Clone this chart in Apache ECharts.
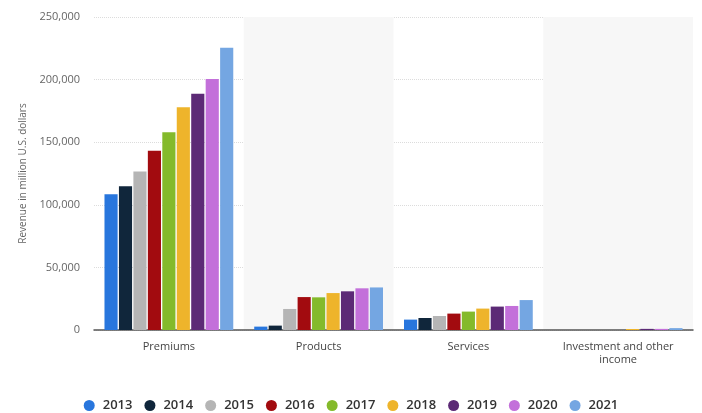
<!DOCTYPE html>
<html>
<head>
<meta charset="utf-8">
<script src="https://cdn.jsdelivr.net/npm/echarts@6/dist/echarts.min.js"></script>
<style>
  html, body { margin: 0; padding: 0; background: #fff; }
  #main-chart { width: 702px; height: 413px; }
</style>
</head>
<body>
<div id="main-chart"></div>
<script>
const categories = ['Premiums', 'Products', 'Services', 'Investment and other\nincome']
const years = ['2013', '2014', '2015', '2016', '2017', '2018', '2019', '2020', '2021']
const yTicks = [0, 50000, 100000, 150000, 200000, 250000]
// revenue per year, in the order of categories
const rev2013 = [108500, 2700, 8300, 0]
const rev2014 = [114900, 3500, 9600, 0]
const rev2015 = [126600, 16800, 11200, 0]
const rev2016 = [143100, 26300, 13100, 0]
const rev2017 = [158000, 26100, 14700, 0]
const rev2018 = [177900, 29500, 17100, 800]
const rev2019 = [188600, 30900, 18700, 900]
const rev2020 = [200500, 33300, 19200, 900]
const rev2021 = [225500, 34000, 23900, 1500]
const colors = ['#2876dd', '#10263b', '#b5b5b5', '#a20b0f', '#84ba2b', '#eeb42b', '#5c2a76', '#c370da', '#74a6e2']

const allRev = [rev2013, rev2014, rev2015, rev2016, rev2017, rev2018, rev2019, rev2020, rev2021]

const myChart = echarts.init(document.getElementById('main-chart'))

let option = {
    animation: false,
    color: colors,
    textStyle: { fontFamily: 'Open Sans, DejaVu Sans, sans-serif' },
    grid: { left: 94, right: 9, top: 17, bottom: 83 },
    legend: {
        top: 394,
        left: 'center',
        icon: 'circle',
        itemWidth: 11,
        itemHeight: 11,
        itemGap: 12,
        textStyle: { fontSize: 13, color: '#333', fontWeight: 600, padding: [0, 0, 0, 3] },
        data: years
    },
    xAxis: {
        type: 'category',
        data: categories,
        axisTick: { show: false },
        axisLine: { lineStyle: { color: '#555', width: 1.5 } },
        axisLabel: { color: '#444', fontSize: 11, margin: 10, lineHeight: 13, interval: 0 },
        splitArea: { show: true, areaStyle: { color: ['rgba(0,0,0,0)', '#f7f7f7'] } }
    },
    yAxis: {
        type: 'value',
        min: yTicks[0],
        max: yTicks[yTicks.length - 1],
        interval: 50000,
        name: 'Revenue in million U.S. dollars',
        nameLocation: 'middle',
        nameGap: 59,
        nameTextStyle: { color: '#666', fontSize: 10 },
        axisLabel: {
            color: '#666',
            fontSize: 11,
            margin: 14,
            formatter: v => v.toLocaleString('en-US')
        },
        splitLine: { lineStyle: { color: '#dcdcdc', type: 'dotted' } }
    },
    series: years.map((y, i) => ({
        name: y,
        type: 'bar',
        data: allRev[i],
        barGap: '10%',
        barCategoryGap: '14%'
    }))
}

myChart.setOption(option)
</script>
</body>
</html>
